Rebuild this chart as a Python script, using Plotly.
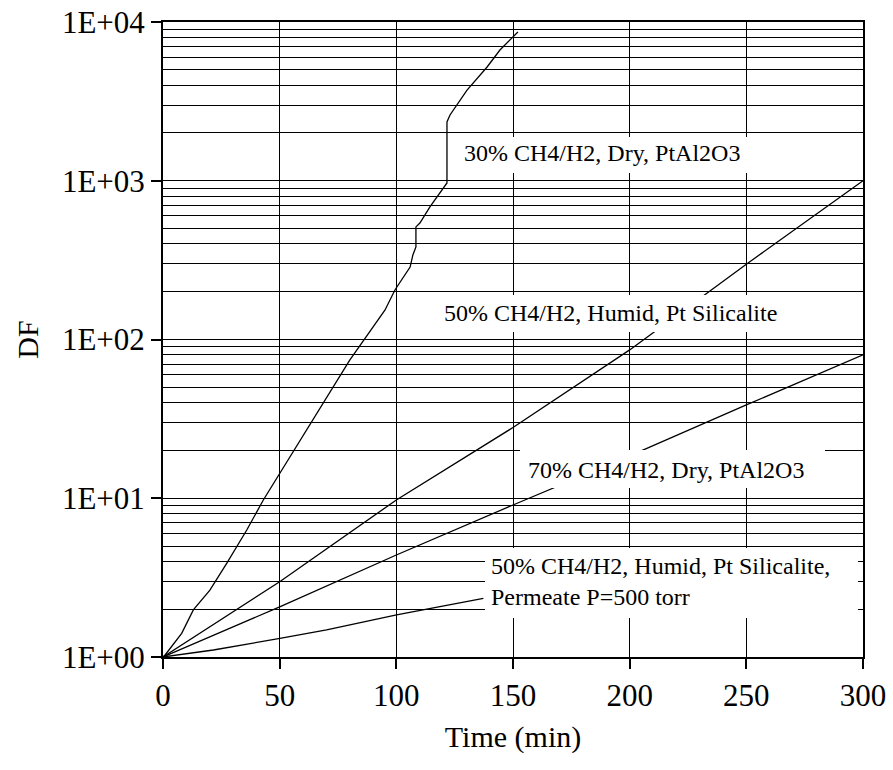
import plotly.graph_objects as go

# ---------------- data ----------------
t_30_dry = [0, 0.9, 8.0, 13.0, 20.1, 27.3, 35.9, 43.0, 80.1, 95.1, 99.4, 105.9, 107.1,
            108.4, 108.4, 110.1, 114.4, 118.7, 121.7, 121.7, 123.0, 130.3, 138.9, 144.4, 152.1]
df_30_dry = [1, 1.03, 1.41, 1.98, 2.64, 3.89, 6.31, 9.75, 74.3, 153, 205, 286, 341,
             383, 512, 542, 684, 849, 968, 2345, 2596, 3720, 5207, 6660, 8650]

t_50_humid = [0, 50, 100, 150, 200, 250, 300]
df_50_humid = [1, 2.98, 9.75, 27.9, 86, 298, 1000]

t_70_dry = [0, 50, 100, 150, 200, 250, 300]
df_70_dry = [1, 2.07, 4.39, 9.07, 18.5, 38.7, 80]

t_50_perm = [0, 21.6, 50.1, 70.1, 100.1, 137.3]
df_50_perm = [1, 1.107, 1.31, 1.48, 1.84, 2.34]

x_ticks = [0, 50, 100, 150, 200, 250, 300]
y_ticks = [1, 10, 100, 1000, 10000]
y_ticktext = ["1E+00", "1E+01", "1E+02", "1E+03", "1E+04"]
y_minor = [k * 10 ** d for d in range(4) for k in range(2, 10)]

labels = [
    "30% CH4/H2, Dry, PtAl2O3",
    "50% CH4/H2, Humid, Pt Silicalite",
    "70% CH4/H2, Dry, PtAl2O3",
    "50% CH4/H2, Humid, Pt Silicalite,<br>Permeate P=500 torr",
]

# ---------------- figure ----------------
W, H = 893, 770
L, R, T, B = 163, 30, 22, 113
PW, PH = W - L - R, H - T - B


def px(x):
    return (x - L) / PW


def py(y):
    return (H - B - y) / PH


FONT = "Liberation Serif"
fig = go.Figure()
line = dict(color="black", width=1.3)
for xs, ys in [(t_30_dry, df_30_dry), (t_50_humid, df_50_humid),
               (t_70_dry, df_70_dry), (t_50_perm, df_50_perm)]:
    fig.add_trace(go.Scatter(x=xs, y=ys, mode="lines", line=line, hoverinfo="skip"))

# white label boxes (pixel extents)
boxes = [
    (448, 860, 137, 173),
    (399, 860, 295, 332),
    (520, 825, 450, 488),
    (485, 858, 548, 618),
]
shapes = []
for x0, x1, y0, y1 in boxes:
    shapes.append(dict(type="rect", xref="paper", yref="paper",
                       x0=px(x0), x1=px(x1), y0=py(y1), y1=py(y0),
                       fillcolor="white", line=dict(width=0), layer="above"))

ann_pos = [
    (602, 153, "center"),
    (610, 313, "center"),
    (666, 470, "center"),
    (489, 581, "left"),
]
annotations = []
for (x, y, anchor), txt in zip(ann_pos, labels):
    annotations.append(dict(xref="paper", yref="paper", x=px(x), y=py(y),
                            xanchor=anchor, yanchor="middle", align="left",
                            text=txt, showarrow=False,
                            font=dict(family=FONT, size=24, color="black")))

fig.update_layout(
    width=W, height=H,
    margin=dict(l=L, r=R, t=T, b=B, pad=0, autoexpand=False),
    plot_bgcolor="white", paper_bgcolor="white",
    showlegend=False,
    font=dict(family=FONT, color="black"),
    shapes=shapes, annotations=annotations,
)
fig.update_xaxes(
    range=[0, 300], tickvals=x_ticks, ticks="outside", ticklen=10, tickwidth=1.5,
    tickcolor="black", showgrid=True, gridcolor="black", gridwidth=1.4,
    showline=True, linecolor="black", linewidth=2, mirror=True, zeroline=False,
    automargin=False,
    tickfont=dict(family=FONT, size=31, color="black"),
    title=dict(text="Time (min)", font=dict(family=FONT, size=30, color="black"), standoff=14),
)
fig.update_yaxes(
    type="log", range=[0, 4], tickvals=y_ticks, ticktext=y_ticktext,
    ticks="outside", ticklen=10, tickwidth=1.5, tickcolor="black",
    showgrid=True, gridcolor="black", gridwidth=1.4,
    minor=dict(tickvals=y_minor, showgrid=True, gridcolor="black", gridwidth=1.4, ticks=""),
    showline=True, linecolor="black", linewidth=2, mirror=True, zeroline=False,
    automargin=False,
    tickfont=dict(family=FONT, size=31, color="black"),
    title=dict(text="DF", font=dict(family=FONT, size=30, color="black"), standoff=14),
)

fig.write_html("out.html")
